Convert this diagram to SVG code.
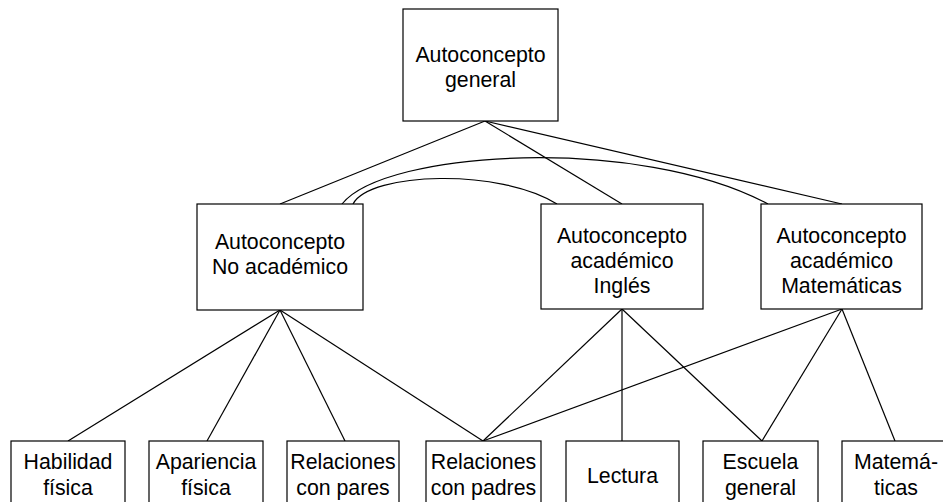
<svg xmlns="http://www.w3.org/2000/svg" width="943" height="502" viewBox="0 0 943 502">
  <style>
    rect.box { fill: #ffffff; stroke: #000000; stroke-width: 1.2; }
    .label { font-family: "Liberation Sans", Arial, sans-serif; font-size: 21.3px; fill: #000000; text-anchor: middle; }
    .link { fill: none; stroke: #000000; stroke-width: 1.2; }
  </style>
  <rect width="943" height="502" fill="#ffffff"/>

  <!-- connectors -->
  <g id="connectors">
    <!-- general to second level -->
    <line class="link" x1="485" y1="121" x2="280" y2="204"/>
    <line class="link" x1="485" y1="121" x2="622" y2="204"/>
    <line class="link" x1="485" y1="121" x2="842" y2="204"/>
    <!-- arcs between second-level nodes -->
    <path class="link" d="M342,204 C385,150 640,135 768,204"/>
    <path class="link" d="M353,204 C370,172 500,168 557,204"/>
    <!-- Autoconcepto No académico -->
    <line class="link" x1="280" y1="310" x2="68" y2="441"/>
    <line class="link" x1="280" y1="310" x2="207" y2="441"/>
    <line class="link" x1="280" y1="310" x2="345" y2="441"/>
    <line class="link" x1="280" y1="310" x2="483" y2="441"/>
    <!-- Autoconcepto académico Inglés -->
    <line class="link" x1="622" y1="309" x2="483" y2="441"/>
    <line class="link" x1="622" y1="309" x2="622" y2="441"/>
    <line class="link" x1="622" y1="309" x2="762" y2="441"/>
    <!-- Autoconcepto académico Matemáticas -->
    <line class="link" x1="842" y1="309" x2="483" y2="441"/>
    <line class="link" x1="842" y1="309" x2="762" y2="441"/>
    <line class="link" x1="842" y1="309" x2="895" y2="441"/>
  </g>

  <!-- top level -->
  <g id="node-general">
    <rect class="box" x="403" y="9" width="155" height="112"/>
    <text class="label" x="480.5" y="62">Autoconcepto</text>
    <text class="label" x="480.5" y="87">general</text>
  </g>

  <!-- second level -->
  <g id="node-no-academico">
    <rect class="box" x="197" y="204" width="166" height="106"/>
    <text class="label" x="280" y="249">Autoconcepto</text>
    <text class="label" x="280" y="274">No académico</text>
  </g>
  <g id="node-ingles">
    <rect class="box" x="541" y="204" width="162" height="105"/>
    <text class="label" x="622" y="243">Autoconcepto</text>
    <text class="label" x="622" y="268">académico</text>
    <text class="label" x="622" y="293">Inglés</text>
  </g>
  <g id="node-matematicas">
    <rect class="box" x="761" y="204" width="161" height="105"/>
    <text class="label" x="841.5" y="243">Autoconcepto</text>
    <text class="label" x="841.5" y="268">académico</text>
    <text class="label" x="841.5" y="293">Matemáticas</text>
  </g>

  <!-- bottom level -->
  <g id="node-habilidad">
    <rect class="box" x="11" y="441" width="114" height="80"/>
    <text class="label" x="68" y="469">Habilidad</text>
    <text class="label" x="68" y="495">física</text>
  </g>
  <g id="node-apariencia">
    <rect class="box" x="149" y="441" width="114" height="80"/>
    <text class="label" x="206" y="469">Apariencia</text>
    <text class="label" x="206" y="495">física</text>
  </g>
  <g id="node-pares">
    <rect class="box" x="287" y="441" width="112" height="80"/>
    <text class="label" x="343" y="469">Relaciones</text>
    <text class="label" x="343" y="495">con pares</text>
  </g>
  <g id="node-padres">
    <rect class="box" x="426" y="441" width="115" height="80"/>
    <text class="label" x="483.5" y="469">Relaciones</text>
    <text class="label" x="483.5" y="495">con padres</text>
  </g>
  <g id="node-lectura">
    <rect class="box" x="566" y="441" width="113" height="80"/>
    <text class="label" x="622.5" y="483">Lectura</text>
  </g>
  <g id="node-escuela">
    <rect class="box" x="703" y="441" width="115" height="80"/>
    <text class="label" x="760.5" y="469">Escuela</text>
    <text class="label" x="760.5" y="495">general</text>
  </g>
  <g id="node-matematicas-area">
    <rect class="box" x="842" y="441" width="114" height="80"/>
    <text class="label" x="896" y="469">Matemá-</text>
    <text class="label" x="896" y="495">ticas</text>
  </g>
</svg>
